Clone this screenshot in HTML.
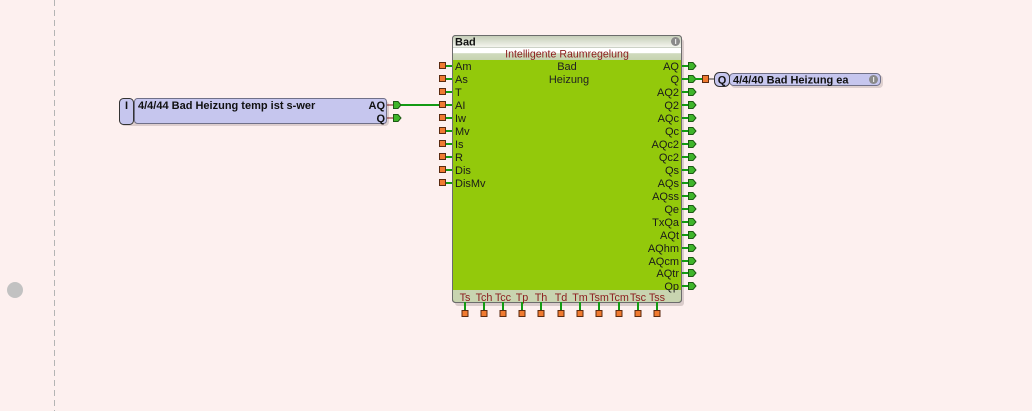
<!DOCTYPE html>
<html><head><meta charset="utf-8"><style>
html,body{margin:0;padding:0;background:#fdf0ef;}
svg{display:block;font-family:"Liberation Sans",Arial,sans-serif;}
</style></head><body>
<svg width="1032" height="411" viewBox="0 0 1032 411" xmlns="http://www.w3.org/2000/svg">
<defs>
<linearGradient id="tb" x1="0" y1="0" x2="0" y2="1"><stop offset="0" stop-color="#c5ceb8"/><stop offset="1" stop-color="#f4f5ee"/></linearGradient>
<linearGradient id="sb" x1="0" y1="0" x2="0" y2="1"><stop offset="0" stop-color="#ffffff"/><stop offset="0.45" stop-color="#ffffff"/><stop offset="0.5" stop-color="#cfdabd"/><stop offset="1" stop-color="#c6d3b0"/></linearGradient>
</defs>
<rect width="1032" height="411" fill="#fdf0ef"/>
<line x1="54.5" y1="0" x2="54.5" y2="411" stroke="#b4b4b4" stroke-width="1" stroke-dasharray="6,4"/>
<circle cx="15" cy="290" r="8" fill="#c2c2c2"/>

<!-- left input block -->
<rect x="121" y="101" width="268" height="25" rx="4" fill="#c8b8b8" opacity="0.6"/>
<rect x="134.5" y="98.5" width="252" height="25" rx="3" fill="#c6c6ee" stroke="#707088"/>
<rect x="119.5" y="98.5" width="14" height="26" rx="4" fill="#c6c6ee" stroke="#333"/>
<text x="126.5" y="109" font-size="11" font-weight="bold" text-anchor="middle" fill="#111">I</text>
<text x="138" y="109" font-size="11" font-weight="bold" fill="#111">4/4/44 Bad Heizung temp ist s-wer</text>
<text x="385" y="109" font-size="11" font-weight="bold" text-anchor="end" fill="#111">AQ</text>
<text x="385" y="122" font-size="11" font-weight="bold" text-anchor="end" fill="#111">Q</text>
<line x1="387" y1="105" x2="394" y2="105" stroke="#7a1a1a"/>
<line x1="387" y1="118" x2="394" y2="118" stroke="#7a1a1a"/>
<path d="M393.5 101.5h4.5l3 3.5l-3 3.5h-4.5z" fill="#3fb52a" stroke="#1d5a14"/>
<path d="M393.5 114.5h4.5l3 3.5l-3 3.5h-4.5z" fill="#3fb52a" stroke="#1d5a14"/>
<line x1="401" y1="105" x2="440" y2="105" stroke="#139a13" stroke-width="2"/>

<!-- Bad block -->
<rect x="455" y="39" width="229" height="267" rx="3" fill="#b8a8a8" opacity="0.5"/>
<rect x="452.5" y="35.5" width="229" height="267" rx="3" fill="#93c90b" stroke="#6c6c6c"/>
<path d="M453 36h228v11h-228z" fill="url(#tb)"/>
<path d="M453 47h228v13h-228z" fill="url(#sb)"/>
<path d="M453 290h228v9q0 3 -3 3h-222q-3 0 -3 -3z" fill="#c8d4b0"/>
<rect x="452.5" y="35.5" width="229" height="267" rx="3" fill="none" stroke="#6c6c6c"/>
<line x1="453" y1="47.5" x2="681" y2="47.5" stroke="#9aa690" stroke-width="0.6"/>
<text x="455" y="45.5" font-size="11" font-weight="bold" fill="#111">Bad</text>
<circle cx="675.5" cy="41.5" r="4.5" fill="#8a8a8a"/>
<rect x="675" y="39" width="1.2" height="5" fill="#e8e8e8"/>
<text x="567" y="57.5" font-size="10.6" text-anchor="middle" fill="#8b1c1c">Intelligente Raumregelung</text>
<text x="567" y="70" font-size="11" text-anchor="middle" fill="#222">Bad</text>
<text x="569" y="83" font-size="11" text-anchor="middle" fill="#222">Heizung</text>

<g font-size="11" fill="#1a1a1a">
<text x="455" y="70">Am</text>
<text x="455" y="83">As</text>
<text x="455" y="96">T</text>
<text x="455" y="109">AI</text>
<text x="455" y="122">Iw</text>
<text x="455" y="135">Mv</text>
<text x="455" y="148">Is</text>
<text x="455" y="161">R</text>
<text x="455" y="174">Dis</text>
<text x="455" y="187">DisMv</text>
</g>
<g stroke="#139a13" stroke-width="2">
<line x1="445" y1="66" x2="452" y2="66"/><line x1="445" y1="79" x2="452" y2="79"/><line x1="445" y1="92" x2="452" y2="92"/><line x1="445" y1="105" x2="452" y2="105"/><line x1="445" y1="118" x2="452" y2="118"/><line x1="445" y1="131" x2="452" y2="131"/><line x1="445" y1="144" x2="452" y2="144"/><line x1="445" y1="157" x2="452" y2="157"/><line x1="445" y1="170" x2="452" y2="170"/><line x1="445" y1="183" x2="452" y2="183"/>
</g>
<g fill="#f07a30" stroke="#5a2a10">
<rect x="439.5" y="62.5" width="6" height="6"/><rect x="439.5" y="75.5" width="6" height="6"/><rect x="439.5" y="88.5" width="6" height="6"/><rect x="439.5" y="101.5" width="6" height="6"/><rect x="439.5" y="114.5" width="6" height="6"/><rect x="439.5" y="127.5" width="6" height="6"/><rect x="439.5" y="140.5" width="6" height="6"/><rect x="439.5" y="153.5" width="6" height="6"/><rect x="439.5" y="166.5" width="6" height="6"/><rect x="439.5" y="179.5" width="6" height="6"/>
</g>

<g font-size="11" fill="#1a1a1a" text-anchor="end">
<text x="679" y="70">AQ</text>
<text x="679" y="83">Q</text>
<text x="679" y="96">AQ2</text>
<text x="679" y="109">Q2</text>
<text x="679" y="122">AQc</text>
<text x="679" y="135">Qc</text>
<text x="679" y="148">AQc2</text>
<text x="679" y="161">Qc2</text>
<text x="679" y="174">Qs</text>
<text x="679" y="187">AQs</text>
<text x="679" y="200">AQss</text>
<text x="679" y="213">Qe</text>
<text x="679" y="226">TxQa</text>
<text x="679" y="239">AQt</text>
<text x="679" y="252">AQhm</text>
<text x="679" y="265">AQcm</text>
<text x="679" y="277">AQtr</text>
<text x="679" y="290">Qp</text>
</g>
<g id="rp">
<line x1="682" y1="66" x2="689" y2="66" stroke="#139a13" stroke-width="2"/>
<path d="M688.5 62.5h4.5l3 3.5l-3 3.5h-4.5z" fill="#3fb52a" stroke="#1d5a14"/>
</g>
<use href="#rp" y="13"/><use href="#rp" y="26"/><use href="#rp" y="39"/><use href="#rp" y="52"/><use href="#rp" y="65"/><use href="#rp" y="78"/><use href="#rp" y="91"/><use href="#rp" y="104"/><use href="#rp" y="117"/><use href="#rp" y="130"/><use href="#rp" y="143"/><use href="#rp" y="156"/><use href="#rp" y="169"/><use href="#rp" y="182"/><use href="#rp" y="195"/><use href="#rp" y="207"/><use href="#rp" y="220"/>

<!-- bottom pins -->
<g font-size="10.8" fill="#8b1c1c" text-anchor="middle">
<text x="465" y="301">Ts</text>
<text x="484" y="301">Tch</text>
<text x="503" y="301">Tcc</text>
<text x="522" y="301">Tp</text>
<text x="541" y="301">Th</text>
<text x="561" y="301">Td</text>
<text x="580" y="301">Tm</text>
<text x="599" y="301">Tsm</text>
<text x="619" y="301">Tcm</text>
<text x="638" y="301">Tsc</text>
<text x="657" y="301">Tss</text>
</g>
<g id="bp">
<line x1="465" y1="302" x2="465" y2="310" stroke="#139a13" stroke-width="2"/>
<rect x="462" y="310.5" width="6" height="6" fill="#f07a30" stroke="#5a2a10"/>
</g>
<use href="#bp" x="19"/><use href="#bp" x="38"/><use href="#bp" x="57"/><use href="#bp" x="76"/><use href="#bp" x="96"/><use href="#bp" x="115"/><use href="#bp" x="134"/><use href="#bp" x="154"/><use href="#bp" x="173"/><use href="#bp" x="192"/>

<!-- output block -->
<line x1="695" y1="79" x2="702" y2="79" stroke="#139a13" stroke-width="2"/>
<rect x="702.5" y="75.5" width="6" height="7" fill="#f07a30" stroke="#5a2a10"/>
<line x1="709" y1="79" x2="714" y2="79" stroke="#333"/>
<rect x="731" y="75" width="152" height="13" rx="4" fill="#c0b0b0" opacity="0.5"/>
<rect x="729.5" y="73.5" width="151" height="12" rx="4" fill="#c6c6ee" stroke="#707088"/>
<rect x="714.5" y="72.5" width="15" height="14" rx="5" fill="#c6c6ee" stroke="#333"/>
<text x="722" y="83.5" font-size="11" font-weight="bold" text-anchor="middle" fill="#111">Q</text>
<text x="733" y="83.5" font-size="11" font-weight="bold" fill="#111">4/4/40 Bad Heizung ea</text>
<circle cx="873.5" cy="79.5" r="4.5" fill="#8a8a8a"/>
<rect x="873" y="77" width="1.2" height="5" fill="#e8e8e8"/>
</svg>
</body></html>
